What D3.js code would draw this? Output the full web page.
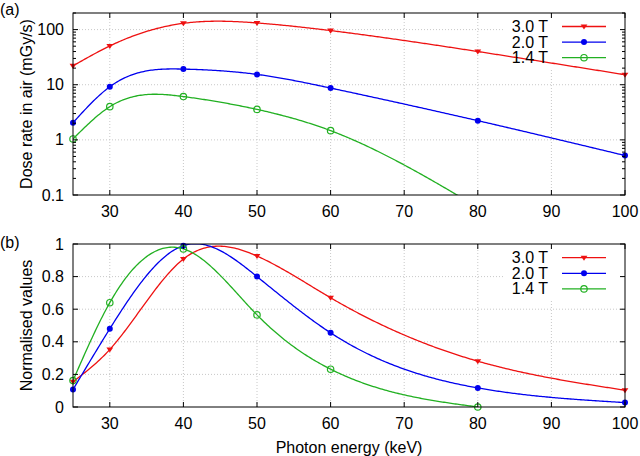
<!DOCTYPE html>
<html><head><meta charset="utf-8">
<script src="https://cdn.jsdelivr.net/npm/d3@7"></script>
<style>
html,body{margin:0;padding:0;background:#fff;}
svg text{font-family:"Liberation Sans",Arial,sans-serif;fill:#000;}
</style></head>
<body><svg id="c" width="640" height="456"></svg>
<script>
// ---- data ----
const energy = [25, 30, 40, 50, 60, 80, 100];
const energy14 = [25, 30, 40, 50, 60, 80];
const dose30 = [22, 50.5, 130, 132, 96, 40, 15.2];
const dose20 = [2.05, 9.2, 19.2, 15.4, 8.7, 2.23, 0.52];
const dose14 = [1.04, 4.0, 6.1, 3.57, 1.47, 0.06];
const norm30 = [0.155, 0.353, 0.908, 0.926, 0.67, 0.281, 0.103];
const norm20 = [0.107, 0.48, 0.99, 0.80, 0.455, 0.117, 0.027];
const norm14 = [0.162, 0.64, 0.97, 0.565, 0.232, 0.0];
const seriesLabels = ["3.0 T", "2.0 T", "1.4 T"];
const xTicks = [30, 40, 50, 60, 70, 80, 90, 100];
const yTicksTop = [0.1, 1, 10, 100];
const yTickLabelsTop = ["0.1", "1", "10", "100"];
const yTicksBot = [0, 0.2, 0.4, 0.6, 0.8, 1];
const yTickLabelsBot = ["0", "0.2", "0.4", "0.6", "0.8", "1"];

const colors = ["#ee1111", "#0000ee", "#22b022"];
const markers = ["tri", "dot", "ring"];

const svg = d3.select("#c");
const L = 73, R = 625;
const x = d3.scaleLinear().domain([25, 100]).range([L, R]);

function naturalSpline(xs, ys) {
  const n = xs.length, h = [], alpha = [], l = [], mu = [], z = [], b = [], c = [], d = [];
  for (let i = 0; i < n - 1; i++) h[i] = xs[i + 1] - xs[i];
  for (let i = 1; i < n - 1; i++) alpha[i] = 3 / h[i] * (ys[i + 1] - ys[i]) - 3 / h[i - 1] * (ys[i] - ys[i - 1]);
  l[0] = 1; mu[0] = 0; z[0] = 0;
  for (let i = 1; i < n - 1; i++) {
    l[i] = 2 * (xs[i + 1] - xs[i - 1]) - h[i - 1] * mu[i - 1];
    mu[i] = h[i] / l[i];
    z[i] = (alpha[i] - h[i - 1] * z[i - 1]) / l[i];
  }
  c[n - 1] = 0;
  for (let j = n - 2; j >= 0; j--) {
    c[j] = z[j] - mu[j] * c[j + 1];
    b[j] = (ys[j + 1] - ys[j]) / h[j] - h[j] * (c[j + 1] + 2 * c[j]) / 3;
    d[j] = (c[j + 1] - c[j]) / (3 * h[j]);
  }
  return function (t) {
    let j = 0;
    while (j < n - 2 && t > xs[j + 1]) j++;
    const dt = t - xs[j];
    return ys[j] + b[j] * dt + c[j] * dt * dt + d[j] * dt * dt * dt;
  };
}

function marker(g, type, cx, cy, col) {
  if (type === "tri") {
    const s = 3.4;
    g.append("path").attr("d", `M${cx - s},${cy - s * 0.6}L${cx + s},${cy - s * 0.6}L${cx},${cy + s * 0.9}Z`).attr("fill", col);
  } else if (type === "dot") {
    g.append("circle").attr("cx", cx).attr("cy", cy).attr("r", 3).attr("fill", col);
  } else {
    g.append("circle").attr("cx", cx).attr("cy", cy).attr("r", 3.2).attr("fill", "none").attr("stroke", col).attr("stroke-width", 1.2);
  }
}

function panel(opts) {
  const { T, B, y, yTicks, yLabels, minor, xsList, ysList, logMode, id, tag, tagY, ylabel, legendY } = opts;
  const g = svg.append("g");
  // grid
  const grid = g.append("g").attr("stroke", "#c8c8c8").attr("stroke-width", 1).attr("stroke-dasharray", "1,2");
  xTicks.filter(v => v < 100).forEach(v => grid.append("line").attr("x1", x(v)).attr("x2", x(v)).attr("y1", T).attr("y2", B));
  yTicks.forEach(v => { if (y(v) > T + 1 && y(v) < B - 1) grid.append("line").attr("x1", L).attr("x2", R).attr("y1", y(v)).attr("y2", y(v)); });
  // legend box (opaque)
  g.append("rect").attr("x", 503).attr("y", T + 1).attr("width", 118).attr("height", 54).attr("fill", "#fff");
  // clip
  svg.append("clipPath").attr("id", id).append("rect").attr("x", L).attr("y", T).attr("width", R - L).attr("height", B - T);
  const cg = g.append("g").attr("clip-path", `url(#${id})`);
  const line = d3.line().x(d => x(d[0])).y(d => d[1]);
  xsList.forEach((xs, k) => {
    const vals = ysList[k];
    const tv = logMode ? vals.map(v => Math.log10(v)) : vals;
    const sp = naturalSpline(xs, tv);
    const pts = [];
    for (let t = xs[0]; t <= xs[xs.length - 1] + 1e-9; t += 0.2) {
      const s = sp(t);
      pts.push([t, logMode ? y(Math.pow(10, s)) : y(s)]);
    }
    cg.append("path").attr("d", line(pts)).attr("fill", "none").attr("stroke", colors[k]).attr("stroke-width", 1.3);
    xs.forEach((xv, i) => {
      const py = y(vals[i]);
      if (py <= B + 1 && py >= T - 1) marker(g, markers[k], x(xv), py, colors[k]);
    });
  });
  // frame
  g.append("rect").attr("x", L).attr("y", T).attr("width", R - L).attr("height", B - T).attr("fill", "none").attr("stroke", "#000").attr("stroke-width", 1);
  // ticks
  const tk = g.append("g").attr("stroke", "#000").attr("stroke-width", 1);
  xTicks.forEach(v => {
    tk.append("line").attr("x1", x(v)).attr("x2", x(v)).attr("y1", B).attr("y2", B - 5);
    tk.append("line").attr("x1", x(v)).attr("x2", x(v)).attr("y1", T).attr("y2", T + 5);
  });
  yTicks.forEach(v => {
    tk.append("line").attr("x1", L).attr("x2", L + 5).attr("y1", y(v)).attr("y2", y(v));
    tk.append("line").attr("x1", R).attr("x2", R - 5).attr("y1", y(v)).attr("y2", y(v));
  });
  minor.forEach(v => {
    tk.append("line").attr("x1", L).attr("x2", L + 3).attr("y1", y(v)).attr("y2", y(v));
    tk.append("line").attr("x1", R).attr("x2", R - 3).attr("y1", y(v)).attr("y2", y(v));
  });
  // tick labels
  xTicks.forEach(v => g.append("text").attr("x", x(v)).attr("y", B + 22).attr("text-anchor", "middle").attr("font-size", "16px").text(v));
  yTicks.forEach((v, i) => g.append("text").attr("x", 64).attr("y", y(v) + 5.5).attr("text-anchor", "end").attr("font-size", "16px").text(yLabels[i]));
  // y label
  g.append("text").attr("transform", `translate(32,${(T + B) / 2}) rotate(-90)`).attr("text-anchor", "middle").attr("font-size", "16px").text(ylabel);
  // tag
  g.append("text").attr("x", 0).attr("y", tagY).attr("font-size", "16px").text(tag);
  // legend
  seriesLabels.forEach((lab, k) => {
    const ly = legendY + k * 15.6;
    g.append("text").attr("x", 548).attr("y", ly + 5.5).attr("text-anchor", "end").attr("font-size", "16px").text(lab);
    g.append("line").attr("x1", 562).attr("x2", 606).attr("y1", ly).attr("y2", ly).attr("stroke", colors[k]).attr("stroke-width", 1.3);
    marker(g, markers[k], 584, ly, colors[k]);
  });
}

// top panel
const yTop = d3.scaleLog().domain([0.1, 200]).range([195, 13]);
const minorTop = [];
[0.1, 1, 10, 100].forEach(dec => { for (let m = 2; m <= 9; m++) if (dec * m <= 200) minorTop.push(dec * m); });
panel({ T: 13, B: 195, y: yTop, yTicks: yTicksTop, yLabels: yTickLabelsTop, minor: minorTop,
  xsList: [energy, energy, energy14], ysList: [dose30, dose20, dose14], logMode: true,
  id: "clipA", tag: "(a)", tagY: 15, ylabel: "Dose rate in air (mGy/s)", legendY: 26.5 });

// bottom panel
const yBot = d3.scaleLinear().domain([0, 1]).range([407, 244]);
panel({ T: 244, B: 407, y: yBot, yTicks: yTicksBot, yLabels: yTickLabelsBot, minor: [],
  xsList: [energy, energy, energy14], ysList: [norm30, norm20, norm14], logMode: false,
  id: "clipB", tag: "(b)", tagY: 248, ylabel: "Normalised values", legendY: 257.7 });

svg.append("text").attr("x", (L + R) / 2).attr("y", 453).attr("text-anchor", "middle").attr("font-size", "16px").text("Photon energy (keV)");
</script>
</body></html>
